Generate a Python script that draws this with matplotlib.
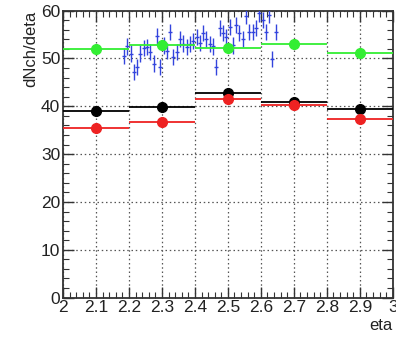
import matplotlib
matplotlib.use("Agg")
import matplotlib.pyplot as plt
import numpy as np
from matplotlib.ticker import MultipleLocator, FuncFormatter

plt.rcParams['font.family'] = ['Liberation Sans', 'DejaVu Sans']

# Binned series (bin centers, width 0.2)
bin_centers = [2.1, 2.3, 2.5, 2.7, 2.9]
bin_halfwidth = 0.1
green_vals = [51.9, 52.7, 52.2, 53.1, 51.2]
black_vals = [39.0, 39.9, 42.7, 40.8, 39.4]
red_vals = [35.4, 36.7, 41.5, 40.2, 37.3]

# Fine-binned blue measurement
blue_eta = [2.185, 2.195, 2.205, 2.215, 2.225, 2.235, 2.245, 2.255, 2.265, 2.275,
            2.285, 2.295, 2.305, 2.315, 2.325, 2.335, 2.345, 2.355, 2.365, 2.375,
            2.385, 2.395, 2.405, 2.415, 2.425, 2.435, 2.445, 2.455, 2.465, 2.475,
            2.485, 2.495, 2.505, 2.515, 2.525, 2.535, 2.545, 2.555, 2.565, 2.575,
            2.585, 2.595, 2.605, 2.615, 2.625, 2.635, 2.645]
blue_vals = [50.5, 52.5, 51.0, 47.2, 48.2, 51.0, 52.1, 52.4, 51.3, 48.9,
             54.7, 48.2, 52.7, 51.5, 55.5, 50.3, 51.4, 54.1, 53.1, 52.4,
             53.0, 53.6, 54.5, 53.2, 55.3, 54.0, 53.0, 52.5, 48.2, 56.3,
             55.3, 54.5, 56.6, 52.7, 57.0, 55.3, 54.0, 58.8, 55.5, 55.5,
             56.3, 59.4, 58.0, 55.5, 59.0, 49.9, 55.5]
blue_err = [1.7] * len(blue_vals)

fig = plt.figure(figsize=(3.96, 3.39), dpi=100)
ax = fig.add_axes([0.159, 0.122, 0.833, 0.847])

ax.set_xlim(2.0, 3.0)
ax.set_ylim(0, 60)

ax.grid(True, which='major', linestyle=(0, (1.2, 2.2)), color='#555555', linewidth=0.9)
ax.set_axisbelow(True)

xerr = [bin_halfwidth] * len(bin_centers)
ax.errorbar(blue_eta, blue_vals, yerr=blue_err, fmt='_', color='#3344dd',
            markersize=3, elinewidth=1.0, capsize=0, zorder=3)
ax.errorbar(bin_centers, green_vals, xerr=xerr, fmt='o', color='#33ee33',
            markersize=7, elinewidth=1.3, capsize=0, zorder=4)
ax.errorbar(bin_centers, black_vals, xerr=xerr, fmt='o', color='black',
            markersize=7, elinewidth=1.3, capsize=0, zorder=4)
ax.errorbar(bin_centers, red_vals, xerr=xerr, fmt='o', color='#ee2222',
            markersize=7, elinewidth=1.3, capsize=0, zorder=5)

ax.xaxis.set_major_locator(MultipleLocator(0.1))
ax.xaxis.set_minor_locator(MultipleLocator(0.02))
ax.yaxis.set_major_locator(MultipleLocator(10))
ax.yaxis.set_minor_locator(MultipleLocator(2))
ax.xaxis.set_major_formatter(FuncFormatter(lambda v, p: '%g' % round(v, 2)))
ax.yaxis.set_major_formatter(FuncFormatter(lambda v, p: '%g' % v))

ax.tick_params(which='both', direction='in', top=True, right=True, labelsize=12.5,
               color='#333333', labelcolor='#222222')
ax.tick_params(which='major', length=8, width=1.0, pad=2)
ax.tick_params(which='minor', length=4, width=0.8)

for s in ax.spines.values():
    s.set_linewidth(1.3)
    s.set_color('#333333')

ax.set_ylabel('dNch/deta', fontsize=12, loc='top', labelpad=2, color='#222222')
ax.set_xlabel('eta', fontsize=12, loc='right', labelpad=2, color='#222222')

fig.savefig('out.png', dpi=100)
